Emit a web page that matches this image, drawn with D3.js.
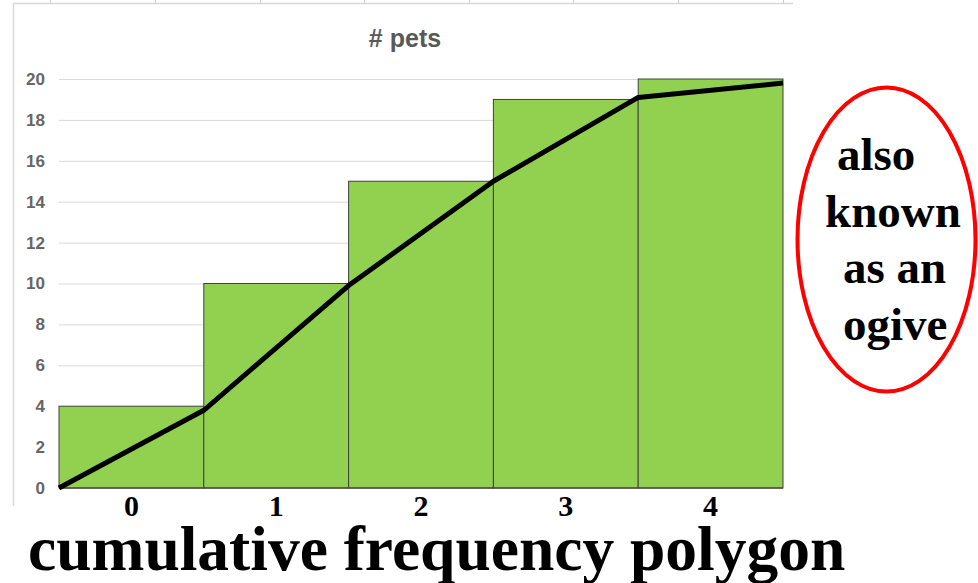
<!DOCTYPE html>
<html>
<head>
<meta charset="utf-8">
<script src="https://cdn.jsdelivr.net/npm/d3@7"></script>
<style>
  html, body { margin: 0; padding: 0; background: #ffffff; }
  svg { display: block; }
</style>
</head>
<body>
<svg id="chart" width="978" height="583"></svg>
<script>
// ---- data ----
const categories = ["0", "1", "2", "3", "4"];
const cumulativeCounts = [4, 10, 15, 19, 20];
// ogive points: first at left edge of first bar, then at right edge of each bar
const ogiveValues = [0, 3.8, 9.9, 15, 19.1, 19.8];
const yTicks = [0, 2, 4, 6, 8, 10, 12, 14, 16, 18, 20];
const chartTitle = "# pets";
const bottomLabel = "cumulative frequency polygon";
const noteLines = ["also", "known", "as an", "ogive"];

// ---- layout ----
const svg = d3.select("#chart");
const plot = { left: 59, right: 783, top: 79, bottom: 488 };

const x = d3.scaleBand().domain(categories).range([plot.left, plot.right]).paddingInner(0).paddingOuter(0);
const y = d3.scaleLinear().domain([0, 20]).range([plot.bottom, plot.top]);

// spreadsheet-like frame lines
const frame = svg.append("g");
frame.append("line").attr("x1", 13).attr("x2", 793).attr("y1", 3.5).attr("y2", 3.5)
  .attr("stroke", "#d9d9d9").attr("stroke-width", 1.5);
frame.append("line").attr("x1", 13.5).attr("x2", 13.5).attr("y1", 3).attr("y2", 506)
  .attr("stroke", "#d9d9d9").attr("stroke-width", 1.5);
frame.selectAll("line.colTick").data([50, 155, 260, 364, 469, 573, 678, 783]).join("line")
  .attr("class", "colTick")
  .attr("x1", d => d + 0.5).attr("x2", d => d + 0.5).attr("y1", 0).attr("y2", 4)
  .attr("stroke", "#d0d0d0").attr("stroke-width", 1);

// gridlines
svg.append("g")
  .attr("transform", `translate(${plot.left},0)`)
  .call(d3.axisLeft(y).tickValues(yTicks).tickSize(-(plot.right - plot.left)).tickFormat(""))
  .call(g => g.select(".domain").remove())
  .call(g => g.selectAll("line").attr("stroke", "#d9d9d9").attr("stroke-width", 1));

// y tick labels
svg.append("g")
  .attr("transform", `translate(${plot.left},0)`)
  .call(d3.axisLeft(y).tickValues(yTicks).tickSize(0).tickPadding(14))
  .call(g => g.select(".domain").remove())
  .call(g => g.selectAll("text")
    .attr("fill", "#666666")
    .style("font-family", "'Liberation Sans', Arial, sans-serif")
    .style("font-weight", "bold")
    .style("font-size", "17px"));

// bars
svg.append("g").selectAll("rect").data(categories).join("rect")
  .attr("x", d => x(d))
  .attr("y", (d, i) => y(cumulativeCounts[i]))
  .attr("width", x.bandwidth())
  .attr("height", (d, i) => y(0) - y(cumulativeCounts[i]))
  .attr("fill", "#92d050")
  .attr("stroke", "#404040")
  .attr("stroke-width", 1);

// baseline
svg.append("line")
  .attr("x1", plot.left).attr("x2", plot.right)
  .attr("y1", y(0)).attr("y2", y(0))
  .attr("stroke", "#404040").attr("stroke-width", 1);

// ogive line
const ogiveX = [x(categories[0])].concat(categories.map(c => x(c) + x.bandwidth()));
const pts = ogiveValues.map((v, i) => [ogiveX[i], y(v)]);
svg.append("path")
  .attr("d", d3.line()(pts))
  .attr("fill", "none")
  .attr("stroke", "#000")
  .attr("stroke-width", 5)
  .attr("stroke-linejoin", "round");

// x axis labels
svg.append("g")
  .attr("transform", `translate(0,${plot.bottom})`)
  .call(d3.axisBottom(x).tickSize(0).tickPadding(7))
  .call(g => g.select(".domain").remove())
  .call(g => g.selectAll("text")
    .attr("fill", "#000")
    .attr("dy", "0.71em")
    .style("font-family", "'Liberation Serif', 'Times New Roman', serif")
    .style("font-weight", "bold")
    .style("font-size", "30px"));

// title
svg.append("text")
  .attr("x", 405).attr("y", 47)
  .attr("text-anchor", "middle")
  .attr("fill", "#595959")
  .style("font-family", "'Liberation Sans', Arial, sans-serif")
  .style("font-weight", "bold")
  .style("font-size", "25px")
  .text(chartTitle);

// bottom label
svg.append("text")
  .attr("x", 28).attr("y", 570)
  .attr("fill", "#000")
  .style("font-family", "'Liberation Serif', 'Times New Roman', serif")
  .style("font-weight", "bold")
  .style("font-size", "63.5px")
  .text(bottomLabel);

// red ellipse annotation
svg.append("ellipse")
  .attr("cx", 886.5).attr("cy", 239.5)
  .attr("rx", 89).attr("ry", 152)
  .attr("fill", "none")
  .attr("stroke", "#ff0000")
  .attr("stroke-width", 4);

const noteX = [837, 825, 843, 843];
svg.append("g").selectAll("text").data(noteLines).join("text")
  .attr("x", (d, i) => noteX[i])
  .attr("y", (d, i) => 170 + i * 56.7)
  .attr("fill", "#000")
  .style("font-family", "'Liberation Serif', 'Times New Roman', serif")
  .style("font-weight", "bold")
  .style("font-size", "47px")
  .text(d => d);
</script>
</body>
</html>
